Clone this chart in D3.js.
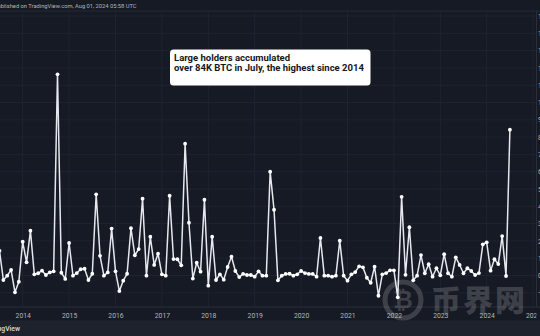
<!DOCTYPE html>
<html>
<head>
<meta charset="utf-8">
<script src="https://cdn.jsdelivr.net/npm/d3@7"></script>
<style>
  html, body { margin: 0; padding: 0; background: #161a25; overflow: hidden; }
  svg { display: block; }
</style>
</head>
<body>
<svg id="chart" width="540" height="336"></svg>
<script>
// Monthly net change of large holders' BTC (thousands of BTC), Jul 2013 – Jul 2024
const startYear = 2013, startMonth = 6; // July 2013 (0-based month)
const values = [
  14.3, -2.6, -0.1, 3.2, -9.7, -3.6,
  19.5, 7.6, 25.9, 0.7, 1.3, 2.8, 0.3, 1.8, 2.4, 116.3, 1.6, -2.0,
  18.8, -0.1, 1.4, 3.6, 3.9, -2.6, 1.0, 46.9, 11.4, -0.1, 1.8, 27.1,
  2.4, -9.0, -3.0, 1.0, 27.3, 11.7, 15.3, 44.4, -0.1, 22.4, 6.1, 12.6,
  0.7, -0.1, 46.1, 9.5, 9.4, 5.9, 76.2, 30.5, -1.8, 7.4, 2.2, 43.8,
  -5.9, 22.4, -2.6, 0.7, -2.4, 4.9, 10.9, 2.6, -0.9, 0.9, 0.3, 0.3,
  -0.7, 2.4, -0.1, -0.1, 60.0, 38.0, -2.8, -0.1, 0.9, 1.0, -0.1, 0.7,
  2.6, 1.4, 0.9, 0.9, -0.7, 21.7, -0.1, -0.1, -0.7, -0.1, 20.1, -0.1,
  -3.0, 0.7, 2.0, 5.3, 4.7, -1.3, -4.2, 5.1, -11.7, 0.7, 1.4, 3.0,
  3.0, -12.6, 45.5, 0.4, 27.9, -2.8, -0.1, 11.8, 1.3, 6.5, -0.7, 4.2,
  0.1, 12.3, 1.3, -0.7, 10.5, 6.1, 1.3, 4.2, 2.6, 0.3, 1.4, 18.0,
  19.2, 2.8, 9.4, 6.6, 22.8, -0.3, 84.3
];
const yearTicks = [2014, 2015, 2016, 2017, 2018, 2019, 2020, 2021, 2022, 2023, 2024, 2025];
const valueTicks = [-10, 0, 10, 20, 30, 40, 50, 60, 70, 80, 90, 100, 110, 120, 130, 140, 150];
const headerText = "Published on TradingView.com, Aug 01, 2024 05:58 UTC";
const noteLines = ["Large holders accumulated", "over 84K BTC in July, the highest since 2014"];
const brandText = "TradingView";
const watermarkText = "币界网";

const data = values.map((v, i) => ({ t: startYear + (startMonth + i) / 12, v }));

const svg = d3.select("#chart");
const W = 540, H = 336;
const plotTop = 11, plotBottom = 307, plotRight = 536.5;
const uiFont = "Roboto, 'Liberation Sans', sans-serif";

const x = d3.scaleLinear().domain([2014, 2024]).range([22.7, 486.7]);
const y = d3.scaleLinear().domain([0, 100]).range([275.5, 102.5]);

function fitWidth(textSel, target) {
  const node = textSel.node();
  const fs = parseFloat(textSel.attr("font-size"));
  const w = node.getComputedTextLength();
  textSel.attr("font-size", fs * target / w);
}

svg.append("defs").append("clipPath").attr("id", "timeClip")
  .append("rect").attr("x", 0).attr("y", 0).attr("width", plotRight).attr("height", H);

// backgrounds
svg.append("rect").attr("x", 0).attr("y", 0).attr("width", W).attr("height", H).attr("fill", "#161a25");
svg.append("rect").attr("x", 0).attr("y", 320.5).attr("width", W).attr("height", H - 320.5).attr("fill", "#1e222d");

// grid
const grid = svg.append("g");
grid.selectAll(".hg").data(valueTicks).join("line")
  .attr("x1", 0).attr("x2", plotRight)
  .attr("y1", d => y(d)).attr("y2", d => y(d))
  .attr("stroke", "#1f2330").attr("stroke-width", 1);
grid.selectAll(".vg").data(yearTicks).join("line")
  .attr("x1", d => x(d)).attr("x2", d => x(d))
  .attr("y1", plotTop).attr("y2", plotBottom)
  .attr("stroke", "#1f2330").attr("stroke-width", 1);
svg.append("line").attr("x1", 0).attr("x2", W).attr("y1", plotTop).attr("y2", plotTop).attr("stroke", "#242834");
svg.append("line").attr("x1", 0).attr("x2", W).attr("y1", plotBottom).attr("y2", plotBottom).attr("stroke", "#2a2e39");
svg.append("line").attr("x1", plotRight).attr("x2", plotRight).attr("y1", plotTop).attr("y2", plotBottom).attr("stroke", "#2a2e39");

// watermark (behind text labels)
const wm = svg.append("g").attr("opacity", 0.22);
wm.append("circle").attr("cx", 403).attr("cy", 300).attr("r", 18).attr("fill", "none")
  .attr("stroke", "#c8c8c8").attr("stroke-width", 5);
wm.append("text").attr("x", 403).attr("y", 308).attr("text-anchor", "middle").text("₿")
  .attr("fill", "#c8c8c8").attr("font-family", "'DejaVu Sans', sans-serif").attr("font-size", 24).attr("font-weight", 700);
wm.append("text").attr("x", 431).attr("y", 311).text(watermarkText)
  .attr("fill", "#c8c8c8").attr("font-family", "'Noto Sans CJK SC', sans-serif")
  .attr("font-size", 30).attr("font-weight", 900).attr("letter-spacing", 2);

// x axis (clipped at the price-scale panel)
const xAxis = d3.axisBottom(x).tickValues(yearTicks).tickFormat(d3.format("d")).tickSize(0);
const gxWrap = svg.append("g").attr("clip-path", "url(#timeClip)");
const gx = gxWrap.append("g").attr("transform", `translate(0,${plotBottom + 3})`).call(xAxis);
gx.select(".domain").remove();
gx.selectAll("text").attr("fill", "#b2b5be").attr("font-family", uiFont)
  .attr("font-size", 6.8).attr("dy", "0.71em");

// y axis (right, mostly clipped by window edge)
const yAxis = d3.axisRight(y).tickValues(valueTicks).tickFormat(d => d3.format(".2f")(d) + "K").tickSize(0);
const gy = svg.append("g").attr("transform", `translate(${plotRight + 1},0)`).call(yAxis);
gy.select(".domain").remove();
gy.selectAll("text").attr("fill", "#b2b5be").attr("font-family", uiFont)
  .attr("font-size", 6.8).attr("x", 0.5);

// header (starts off the left edge)
const header = svg.append("text").attr("y", 7.5).text(headerText)
  .attr("fill", "#b2b5be").attr("font-family", uiFont).attr("font-size", 6.5);
{
  const n = header.node();
  const wFull = n.getComputedTextLength();
  const wPu = n.getSubStringLength(0, 2);
  const fs = 6.5 * 136.3 / (wFull - wPu);
  header.attr("font-size", fs);
  const wPu2 = n.getSubStringLength(0, 2);
  header.attr("x", 0.7 - wPu2);
}

// brand
svg.append("text").attr("x", -18).attr("y", 331).text(brandText)
  .attr("fill", "#d1d4dc").attr("font-family", uiFont).attr("font-size", 6.8)
  .attr("font-weight", 600);

// line + points
const line = d3.line().x(d => x(d.t)).y(d => y(d.v));
svg.append("path").datum(data).attr("d", line)
  .attr("fill", "none").attr("stroke", "#e6e8ee").attr("stroke-width", 1.5).attr("stroke-linejoin", "round");
svg.append("g").selectAll("circle").data(data).join("circle")
  .attr("cx", d => x(d.t)).attr("cy", d => y(d.v)).attr("r", 1.9)
  .attr("fill", "#ffffff");

// annotation
const note = svg.append("g");
note.append("rect").attr("x", 170).attr("y", 49.5).attr("width", 200.5).attr("height", 36)
  .attr("rx", 3.5).attr("fill", "#ffffff");
const noteTexts = note.selectAll("text").data(noteLines).join("text")
  .attr("x", 174).attr("y", (d, i) => 60.6 + i * 10.4).text(d => d)
  .attr("fill", "#131722").attr("font-family", uiFont)
  .attr("font-size", 9.5).attr("font-weight", 700);
{
  const second = d3.select(noteTexts.nodes()[1]);
  fitWidth(second, 190);
  const fs = second.attr("font-size");
  noteTexts.attr("font-size", fs);
}
</script>
</body>
</html>
